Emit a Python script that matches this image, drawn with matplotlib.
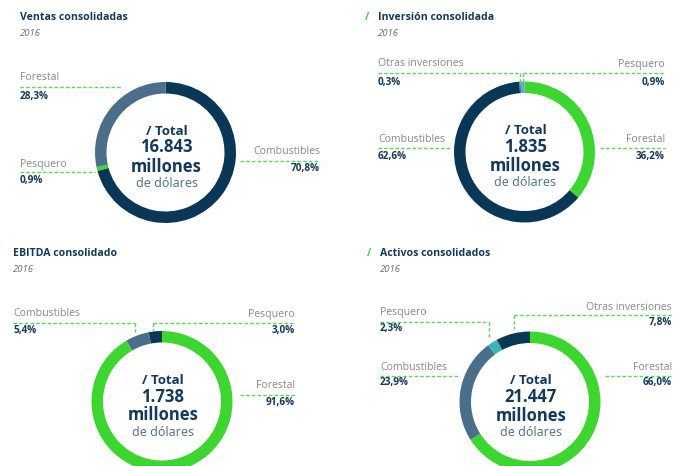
import matplotlib
matplotlib.use("Agg")
import matplotlib.pyplot as plt

# ---- data ----
ventas_labels = ["Combustibles", "Pesquero", "Forestal"]
ventas_values = [70.8, 0.9, 28.3]
inversion_labels = ["Forestal", "Combustibles", "Otras inversiones", "Pesquero"]
inversion_values = [36.2, 62.6, 0.3, 0.9]
ebitda_labels = ["Forestal", "Combustibles", "Pesquero"]
ebitda_values = [91.6, 5.4, 3.0]
activos_labels = ["Forestal", "Combustibles", "Pesquero", "Otras inversiones"]
activos_values = [66.0, 23.9, 2.3, 7.8]
totals = ["16.843", "1.835", "1.738", "21.447"]
titles = ["Ventas consolidadas", "Inversión consolidada",
          "EBITDA consolidado", "Activos consolidados"]
year = "2016"

NAVY, MID, GREEN, TEAL, LIGHT = "#0b3756", "#4b6f8b", "#3dd630", "#3ab6b6", "#5fa9c9"
INK, GREY, DASH = "#14395a", "#8a8a8a", "#5cd655"

ventas_colors = [NAVY, GREEN, MID]
inversion_colors = [GREEN, NAVY, MID, LIGHT]
ebitda_colors = [GREEN, MID, NAVY]
activos_colors = [GREEN, MID, TEAL, NAVY]

plt.rcParams["font.family"] = ["Open Sans", "DejaVu Sans"]

fig = plt.figure(figsize=(6.73, 4.66), dpi=100)
ax = fig.add_axes([0, 0, 1, 1])

R, W = 70.5, 11.5

# layout per panel: ring centre, title pos, slash?, label placements
# label placement: (x, y_text, ha, line_x0, line_x1, line_y, y_pct, drop_x, drop_y)
panels = [
    dict(labels=ventas_labels, values=ventas_values, colors=ventas_colors,
         center=(165.5, 152.5), tx=20, ty=17, slash=None,
         place={
             "Forestal": (20, 78, "left", 20, 122, 87, 96, None, None),
             "Pesquero": (20, 164, "left", 20, 95, 172, 181, None, None),
             "Combustibles": (320, 152, "right", 240, 320, 161, 169, None, None),
         }),
    dict(labels=inversion_labels, values=inversion_values, colors=inversion_colors,
         center=(524.5, 152), tx=378, ty=17, slash=365,
         place={
             "Otras inversiones": (378, 64, "left", 378, 520, 73, 82, 520, 82),
             "Pesquero": (665, 64, "right", 523, 665, 73, 82, 523, 82),
             "Combustibles": (378, 139, "left", 378, 450, 148, 156, None, None),
             "Forestal": (665, 139, "right", 600, 665, 148, 156, None, None),
         }),
    dict(labels=ebitda_labels, values=ebitda_values, colors=ebitda_colors,
         center=(162, 401.5), tx=13, ty=254, slash=None,
         place={
             "Combustibles": (13, 314, "left", 13, 135, 323, 330, 135, 332),
             "Pesquero": (295, 314, "right", 153, 295, 323, 330, 153, 331),
             "Forestal": (295, 386, "right", 240, 295, 395, 402, None, None),
         }),
    dict(labels=activos_labels, values=activos_values, colors=activos_colors,
         center=(530, 402), tx=380, ty=254, slash=367,
         place={
             "Pesquero": (380, 313, "left", 380, 489, 322, 329, 489, 337),
             "Otras inversiones": (672, 307, "right", 514, 673, 315, 322, 514, 329),
             "Combustibles": (380, 368, "left", 380, 460, 376, 383, None, None),
             "Forestal": (672, 368, "right", 605, 673, 376, 383, None, None),
         }),
]

for i, p in enumerate(panels):
    cx, cy = p["center"]
    # y axis is inverted: startangle -90 + counterclock draws clockwise from the top
    ax.pie(p["values"], colors=p["colors"], startangle=-90, counterclock=True,
           radius=R, center=(cx, cy),
           wedgeprops=dict(width=W, linewidth=0))

    if p["slash"] is not None:
        ax.text(p["slash"], p["ty"], "/", color=GREEN, fontsize=7.5,
                fontweight="bold", va="center", ha="left")
    ax.text(p["tx"], p["ty"], titles[i], color=INK, fontsize=7.6,
            fontweight="bold", va="center", ha="left")
    ax.text(p["tx"], p["ty"] + 16, year, color="#707070", fontsize=6.8,
            style="italic", va="center", ha="left")

    for name, v in zip(p["labels"], p["values"]):
        x, yt, ha, lx0, lx1, ly, yp, dx, dy = p["place"][name]
        ax.text(x, yt, name, color=GREY, fontsize=7.6, ha=ha, va="center")
        ax.plot([lx0, lx1], [ly, ly], color=DASH, lw=1.0, ls=(0, (2.5, 1.6)))
        if dx is not None:
            ax.plot([dx, dx], [ly, dy], color=DASH, lw=1.0, ls=(0, (2.5, 1.6)))
        ax.text(x, yp, f"{v:.1f}".replace(".", ",") + "%", color=INK,
                fontsize=7.2, fontweight="bold", ha=ha, va="center")

    ax.text(cx + 1, cy - 21, "/ Total", color=INK, fontsize=9.5,
            fontweight="bold", ha="center", va="center")
    ax.text(cx + 1, cy - 5, totals[i], color=INK, fontsize=12,
            fontweight="bold", ha="center", va="center")
    ax.text(cx + 1, cy + 14, "millones", color=INK, fontsize=12,
            fontweight="bold", ha="center", va="center")
    ax.text(cx + 1, cy + 31, "de dólares", color=MID, fontsize=9,
            ha="center", va="center")

ax.set_xlim(0, 673)
ax.set_ylim(466, 0)
ax.set_aspect("auto")
ax.axis("off")

fig.savefig("out.png", dpi=100, facecolor="white")
